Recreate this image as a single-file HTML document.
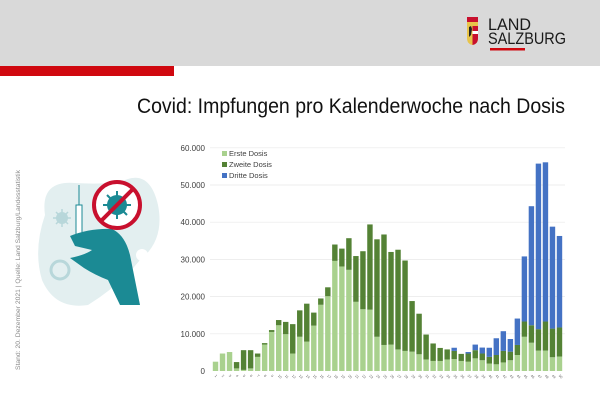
<!DOCTYPE html>
<html><head><meta charset="utf-8"><style>
html,body{margin:0;padding:0;width:600px;height:400px;overflow:hidden;background:#fff}
svg{display:block;font-family:"Liberation Sans",sans-serif}
</style></head><body>
<svg id="s" width="600" height="400" viewBox="0 0 600 400">
<rect x="0" y="0" width="600" height="66" fill="#d9d9d9"/>
<rect x="0" y="66" width="174" height="10" fill="#d0080f"/>
<!-- logo -->
<path d="M467 20 h11 v18 q0 6 -5.5 7 q-5.5 -1 -5.5 -7z" fill="#e8c44a"/>
<rect x="467" y="17" width="11" height="5" fill="#c8102e"/>
<path d="M472.5 26 h5.5 v12 q0 6 -5.5 7z" fill="#c8102e"/>
<rect x="472.5" y="31" width="5.5" height="3" fill="#fff"/>
<path d="M469 27 l2 -1 l1 3 l-1 6 l-2 2z" fill="#222"/>
<text x="488" y="30" font-size="16.5" fill="#1a1a1a" textLength="43" lengthAdjust="spacingAndGlyphs">LAND</text>
<text x="488" y="44" font-size="16.5" fill="#1a1a1a" textLength="78" lengthAdjust="spacingAndGlyphs">SALZBURG</text>
<rect x="490" y="48" width="35" height="2.5" fill="#d0080f"/>
<!-- title -->
<text x="137" y="113" font-size="21" fill="#111" textLength="428" lengthAdjust="spacingAndGlyphs">Covid: Impfungen pro Kalenderwoche nach Dosis</text>
<!-- side text -->
<text transform="translate(20,370) rotate(-90)" font-size="6.6" fill="#8a8a8a" textLength="200" lengthAdjust="spacingAndGlyphs">Stand: 20. Dezember 2021 | Quelle: Land Salzburg/Landesstatistik</text>
<!-- illustration -->
<path d="M45 215 Q40 180 75 183 Q110 185 125 180 Q150 170 158 205 Q165 240 140 260 Q120 285 88 305 Q55 310 42 280 Q33 250 45 215z" fill="#e3eff0"/>
<circle cx="62" cy="218" r="6" fill="#b8d7da"/>
<g stroke="#b8d7da" stroke-width="1.5"><line x1="53" y1="218" x2="71" y2="218"/><line x1="62" y1="209" x2="62" y2="227"/><line x1="56" y1="212" x2="68" y2="224"/><line x1="68" y1="212" x2="56" y2="224"/></g>
<circle cx="60" cy="270" r="9" fill="none" stroke="#b8d7da" stroke-width="3"/>
<circle cx="142" cy="255" r="6" fill="#fff"/>
<line x1="79" y1="185" x2="79" y2="235" stroke="#1b8a94" stroke-width="1"/>
<rect x="76" y="205" width="6" height="35" fill="#fff" stroke="#1b8a94" stroke-width="1"/>
<path d="M70 236 Q90 228 112 229 Q125 235 130 255 L140 305 L120 305 L108 280 Q95 275 84 268 L70 258 Q85 255 92 250 L75 246z" fill="#1b8a94"/>
<circle cx="117" cy="205" r="23" fill="#fff" stroke="#c8102e" stroke-width="4"/>
<circle cx="117" cy="205" r="10" fill="#1b8a94"/>
<g stroke="#1b8a94" stroke-width="2"><line x1="103" y1="205" x2="131" y2="205"/><line x1="117" y1="191" x2="117" y2="219"/><line x1="107" y1="195" x2="127" y2="215"/><line x1="127" y1="195" x2="107" y2="215"/></g>
<line x1="101" y1="221" x2="133" y2="189" stroke="#c8102e" stroke-width="4"/>
<g id="chart"></g>
</svg>
<script>
var d=[[2.5,0,0],[4.7,0,0],[5.1,0,0],[0.7,1.7,0],[0.3,5.3,0],[0.7,4.9,0],[3.8,0.9,0],[7.1,0.4,0],[10.5,0.5,0],[12.3,1.4,0],
[9.9,3.3,0],[4.7,7.9,0],[9.2,7.1,0],[7.9,10.2,0],[12.2,3.5,0],[17.8,1.7,0],[20.1,2.4,0],[29.6,4.4,0],[28.1,4.8,0],[27.2,8.5,0],
[18.6,12.3,0],[16.6,15.6,0],[16.5,22.9,0],[9.2,26.2,0],[7.0,29.7,0],[7.1,24.9,0],[5.8,26.8,0],[5.4,24.3,0],[5.2,13.6,0],[4.5,10.9,0],
[3.1,6.7,0],[2.7,4.7,0],[2.7,3.5,0],[3.1,2.7,0],[3.2,2.2,0.85],[2.7,1.9,0],[2.5,2.2,0.4],[3.4,2.2,1.5],[2.9,1.8,1.6],[2.0,1.8,2.45],
[1.8,2.5,4.5],[2.3,3.1,5.3],[2.9,2.3,3.4],[4.3,2.7,7.1],[9.2,4.1,17.5],[7.6,4.7,32],[5.5,5.75,44.5],[5.5,7.8,42.8],[3.7,7.7,27.4],[3.9,7.8,24.6]];
var ns="http://www.w3.org/2000/svg",g=document.getElementById("chart"),h="";
var y0=371,k=3.72,x0=212,w=7.02;
for(var i=0;i<=6;i++){var y=y0-i*10*k;
 if(i>0)h+='<line x1="210" y1="'+y+'" x2="565" y2="'+y+'" stroke="#e8e8e8" stroke-width="0.7"/>';
 h+='<text x="205" y="'+(y+3)+'" font-size="8" fill="#404040" text-anchor="end">'+(i==0?'0':(i*10)+'.000')+'</text>';}
var c=["#a9d18e","#548235","#4472c4"];
for(var i=0;i<d.length;i++){var x=x0+i*w+0.8,b=y0;
 for(var j=0;j<3;j++){var v=d[i][j]*k;if(v>0){h+='<rect x="'+x.toFixed(2)+'" y="'+(b-v).toFixed(2)+'" width="'+(w-1.6).toFixed(2)+'" height="'+v.toFixed(2)+'" fill="'+c[j]+'"/>';b-=v;}}
 var cx=x0+i*w+w/2;
 h+='<text transform="translate('+(cx-1)+',376) rotate(45)" font-size="3.5" fill="#666">'+(i+1)+'</text>';}
var L=["Erste Dosis","Zweite Dosis","Dritte Dosis"];
for(var j=0;j<3;j++){var y=155+j*11;h+='<rect x="222" y="'+(y-4)+'" width="5" height="5" fill="'+c[j]+'"/><text x="229" y="'+(y+1)+'" font-size="7.5" fill="#404040">'+L[j]+'</text>';}
g.innerHTML=h;
</script>
</body></html>
